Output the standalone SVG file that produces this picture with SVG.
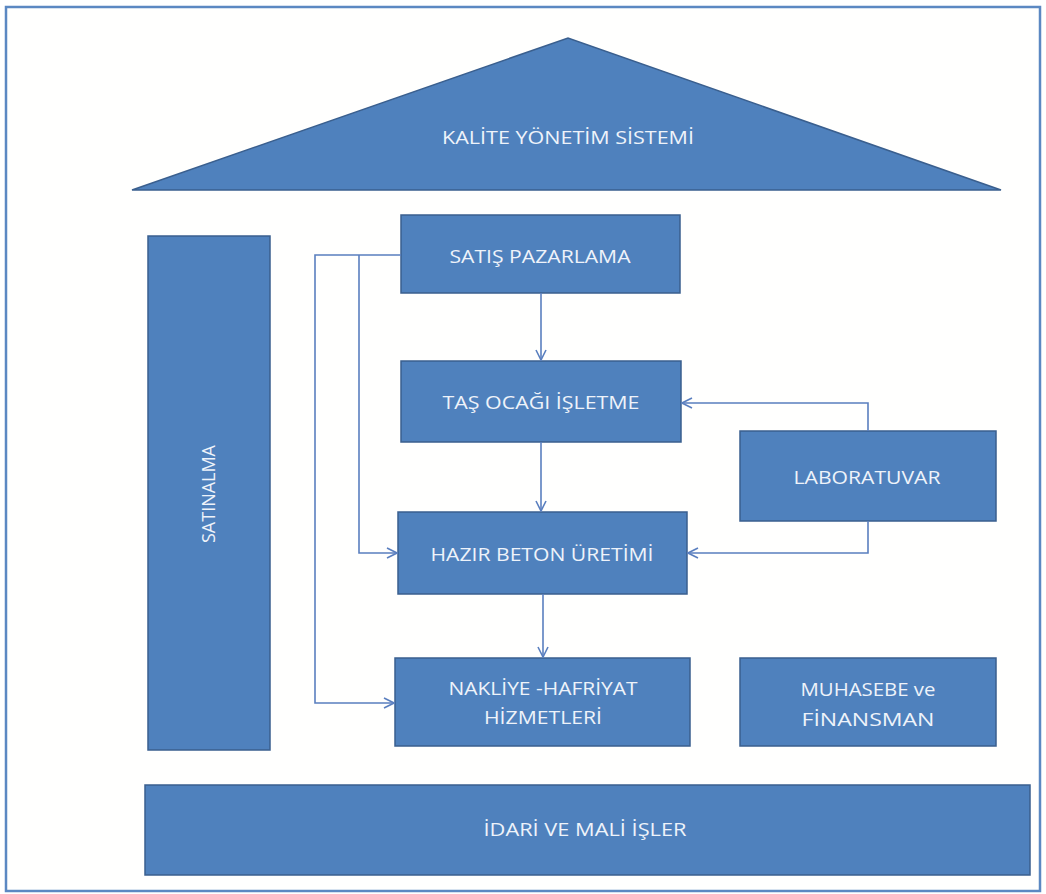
<svg xmlns="http://www.w3.org/2000/svg" width="1046" height="894" viewBox="0 0 1046 894">
<defs>
<style>
.box{fill:#4f81bd;stroke:#3a5f8e;stroke-width:1.5}
.t{font-family:"Open Sans","Liberation Sans",sans-serif;font-size:18px;fill:#eef3fa;text-anchor:middle}
.c{fill:none;stroke:#5a7fbf;stroke-width:1.6}
</style>
<marker id="ah" viewBox="0 0 12 12" refX="11" refY="6" markerWidth="12" markerHeight="12" markerUnits="userSpaceOnUse" orient="auto">
<path d="M1,1 L11,6 L1,11" fill="none" stroke="#5a7fbf" stroke-width="1.6"/>
</marker>
</defs>
<rect x="0" y="0" width="1046" height="894" fill="#ffffff"/>
<rect x="6" y="7" width="1034" height="884" fill="#fffffe" stroke="#5b88c2" stroke-width="2.5"/>
<g id="kalite">
<polygon class="box" points="132,190 568,38 1001,190"/>
<text class="t" x="568" y="144" textLength="252" lengthAdjust="spacingAndGlyphs">KALİTE YÖNETİM SİSTEMİ</text>
</g>
<g id="satinalma">
<rect class="box" x="148" y="236" width="122" height="514"/>
<text class="t" transform="translate(215,494) rotate(-90)" textLength="98" lengthAdjust="spacingAndGlyphs">SATINALMA</text>
</g>
<g id="satis">
<rect class="box" x="401" y="215" width="279" height="78"/>
<text class="t" x="540" y="263" textLength="181" lengthAdjust="spacingAndGlyphs">SATIŞ PAZARLAMA</text>
</g>
<g id="tas">
<rect class="box" x="401" y="361" width="280" height="81"/>
<text class="t" x="541" y="409" textLength="197" lengthAdjust="spacingAndGlyphs">TAŞ OCAĞI  İŞLETME</text>
</g>
<g id="hazir">
<rect class="box" x="398" y="512" width="289" height="82"/>
<text class="t" x="542" y="561" textLength="223" lengthAdjust="spacingAndGlyphs">HAZIR BETON ÜRETİMİ</text>
</g>
<g id="nakliye">
<rect class="box" x="395" y="658" width="295" height="88"/>
<text class="t" x="543" y="695" textLength="189" lengthAdjust="spacingAndGlyphs">NAKLİYE -HAFRİYAT</text>
<text class="t" x="543" y="724" textLength="118" lengthAdjust="spacingAndGlyphs">HİZMETLERİ</text>
</g>
<g id="laboratuvar">
<rect class="box" x="740" y="431" width="256" height="90"/>
<text class="t" x="867" y="484" textLength="147" lengthAdjust="spacingAndGlyphs">LABORATUVAR</text>
</g>
<g id="muhasebe">
<rect class="box" x="740" y="658" width="256" height="88"/>
<text class="t" x="868" y="696" textLength="135" lengthAdjust="spacingAndGlyphs">MUHASEBE ve</text>
<text class="t" x="868" y="726" textLength="133" lengthAdjust="spacingAndGlyphs">FİNANSMAN</text>
</g>
<g id="idari">
<rect class="box" x="145" y="785" width="885" height="90"/>
<text class="t" x="585" y="836" textLength="203" lengthAdjust="spacingAndGlyphs">İDARİ VE MALİ İŞLER</text>
</g>
<g id="connectors">
<path class="c" d="M541,293 V360" marker-end="url(#ah)"/>
<path class="c" d="M541,442 V511" marker-end="url(#ah)"/>
<path class="c" d="M543,594 V657" marker-end="url(#ah)"/>
<path class="c" d="M401,255 H315 V703 H394" marker-end="url(#ah)"/>
<path class="c" d="M359,255 V553 H397" marker-end="url(#ah)"/>
<path class="c" d="M868,431 V403 H682" marker-end="url(#ah)"/>
<path class="c" d="M868,521 V553 H688" marker-end="url(#ah)"/>
</g>
</svg>
